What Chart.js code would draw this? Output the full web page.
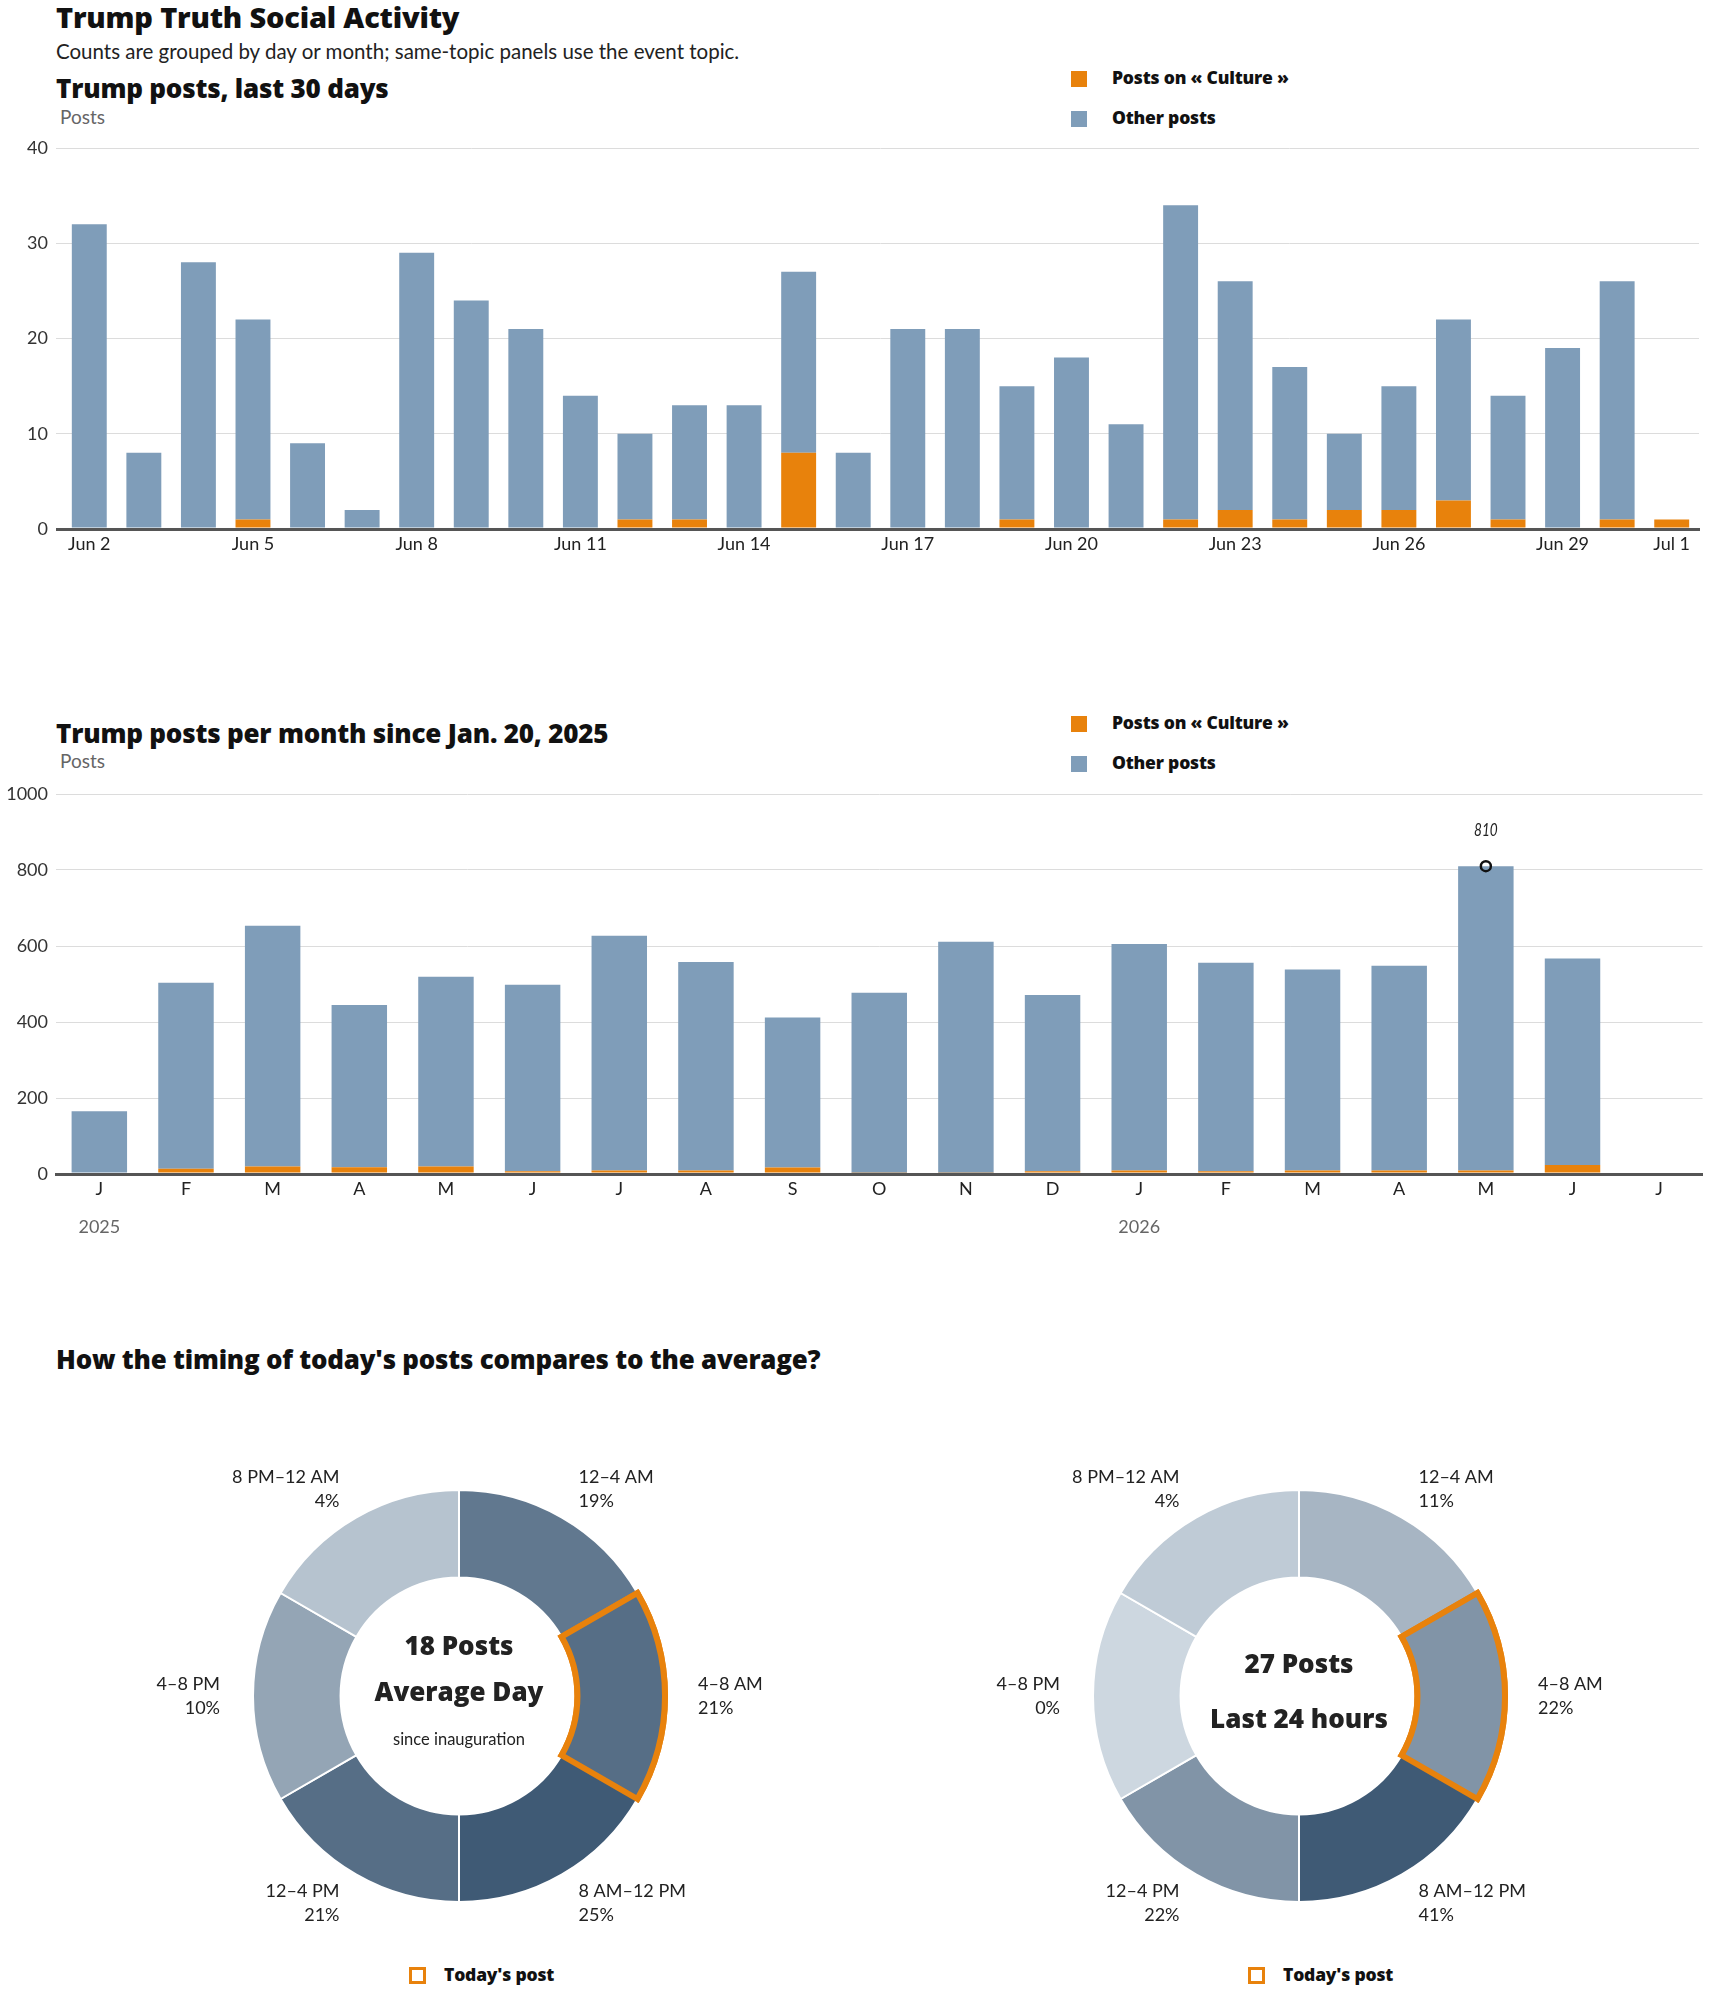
<!DOCTYPE html>
<html>
<head>
<meta charset="utf-8">
<script src="https://cdn.jsdelivr.net/npm/chart.js@4.4.1/dist/chart.umd.min.js"></script>
<style>
  body { margin: 0; background: #fff; }
  #page { position: relative; width: 1710px; height: 1993px; overflow: hidden; font-family: 'Lato', sans-serif; color: #111; }
  .t { position: absolute; white-space: nowrap; line-height: 1; transform: translateY(-50%); }
  .hd { font-family: 'Open Sans', sans-serif; font-weight: 800; letter-spacing: -0.2px; }
  .h1 { font-size: 29px; }
  .h2 { font-size: 26px; }
  .h3 { font-size: 25.9px; }
  .sub { font-size: 20.5px; color: #222; }
  .unit { font-size: 19px; color: #666; }
  .lg { font-size: 17.5px; }
  .sq { position: absolute; width: 16px; height: 16px; }
  .box { position: absolute; width: 11px; height: 11px; border: 3px solid #e8820c; }
  canvas { position: absolute; }
</style>
</head>
<body>
<div id="page">
  <div class="t hd h1" style="left:56px; top:16px;">Trump Truth Social Activity</div>
  <div class="t sub" style="left:56px; top:51px;">Counts are grouped by day or month; same-topic panels use the event topic.</div>

  <div class="t hd h2" style="left:56px; top:88px;">Trump posts, last 30 days</div>
  <div class="t unit" style="left:60px; top:116px;">Posts</div>
  <div class="sq" style="left:1071px; top:71px; background:#e8820c;"></div>
  <div class="t hd lg" style="left:1112px; top:78px;">Posts on « Culture »</div>
  <div class="sq" style="left:1071px; top:111px; background:#7f9db9;"></div>
  <div class="t hd lg" style="left:1112px; top:118px;">Other posts</div>
  <canvas id="daily" style="left:0; top:121px; width:1710px; height:440px;"></canvas>

  <div class="t hd h2" style="left:56px; top:733px;">Trump posts per month since Jan. 20, 2025</div>
  <div class="t unit" style="left:60px; top:760px;">Posts</div>
  <div class="sq" style="left:1071px; top:716px; background:#e8820c;"></div>
  <div class="t hd lg" style="left:1112px; top:723px;">Posts on « Culture »</div>
  <div class="sq" style="left:1071px; top:756px; background:#7f9db9;"></div>
  <div class="t hd lg" style="left:1112px; top:763px;">Other posts</div>
  <canvas id="monthly" style="left:0; top:763px; width:1710px; height:481px;"></canvas>

  <div class="t hd h3" style="left:56px; top:1360px;">How the timing of today's posts compares to the average?</div>
  <canvas id="donutAvg" style="left:79px; top:1436px; width:760px; height:520px;"></canvas>
  <canvas id="donutToday" style="left:919px; top:1436px; width:760px; height:520px;"></canvas>
  <div class="box" style="left:409px; top:1967px;"></div>
  <div class="t hd lg" style="left:444px; top:1975px;">Today's post</div>
  <div class="box" style="left:1248px; top:1967px;"></div>
  <div class="t hd lg" style="left:1283px; top:1975px;">Today's post</div>
</div>

<script>
// ---- data ----
const dayLabels = ['Jun 2', 'Jun 3', 'Jun 4', 'Jun 5', 'Jun 6', 'Jun 7', 'Jun 8', 'Jun 9', 'Jun 10', 'Jun 11',
    'Jun 12', 'Jun 13', 'Jun 14', 'Jun 15', 'Jun 16', 'Jun 17', 'Jun 18', 'Jun 19', 'Jun 20', 'Jun 21',
    'Jun 22', 'Jun 23', 'Jun 24', 'Jun 25', 'Jun 26', 'Jun 27', 'Jun 28', 'Jun 29', 'Jun 30', 'Jul 1'];
const dayCulture = [0, 0, 0, 1, 0, 0, 0, 0, 0, 0, 1, 1, 0, 8, 0, 0, 0, 1, 0, 0, 1, 2, 1, 2, 2, 3, 1, 0, 1, 1];
const dayOther = [32, 8, 28, 21, 9, 2, 29, 24, 21, 14, 9, 12, 13, 19, 8, 21, 21, 14, 18, 11, 33, 24, 16, 8, 13, 19, 13, 19, 25, 0];
const dayTicks = [0, 10, 20, 30, 40];

const monthLabels = ['J', 'F', 'M', 'A', 'M', 'J', 'J', 'A', 'S', 'O', 'N', 'D', 'J', 'F', 'M', 'A', 'M', 'J', 'J'];
const monthYears = [{ index: 0, label: '2025' }, { index: 12, label: '2026' }];
const monthCulture = [0, 14, 20, 18, 20, 7, 9, 9, 17, 3, 3, 7, 9, 7, 9, 9, 9, 24, 0];
const monthOther = [165, 489, 633, 427, 499, 491, 618, 549, 395, 474, 608, 464, 596, 549, 529, 539, 801, 543, 0];
const monthTicks = [0, 200, 400, 600, 800, 1000];

const slotLabels = ['12–4 AM', '4–8 AM', '8 AM–12 PM', '12–4 PM', '4–8 PM', '8 PM–12 AM'];
const slotHours = [4, 4, 4, 4, 4, 4];
const avgPct = [19, 21, 25, 21, 10, 4];
const todayPct = [11, 22, 41, 22, 0, 4];
const avgPosts = 18;
const todayPosts = 27;
const todaySlot = 1;

// ---- styles ----
const ORANGE = '#e8820c';
const BLUE = '#7f9db9';
const GRID = '#dcdcdc';
const AXIS = '#555';
const FONT = "'Lato', sans-serif";
const HEAVY = "'Open Sans', sans-serif";

Chart.defaults.font.family = FONT;
Chart.defaults.color = '#222';
Chart.defaults.animation = false;

function barOptions(opts) {
    return {
        responsive: false,
        maintainAspectRatio: false,
        events: [],
        layout: { padding: { top: opts.padTop, right: opts.padRight, left: 0, bottom: 0 } },
        plugins: { legend: { display: false }, tooltip: { enabled: false } },
        scales: {
            x: {
                stacked: true,
                grid: { display: false, drawTicks: false },
                border: { display: true, color: AXIS, width: 3, z: 1 },
                ticks: {
                    autoSkip: false, maxRotation: 0, padding: 4,
                    font: { size: 18 }, color: '#222',
                    callback: opts.xCallback
                },
                afterFit: s => { s.height = opts.xHeight; }
            },
            y: {
                stacked: true,
                min: 0, max: opts.max,
                afterBuildTicks: s => { s.ticks = opts.ticks.map(v => ({ value: v })); },
                grid: {
                    color: c => c.tick && c.tick.value === 0 ? AXIS : GRID,
                    lineWidth: c => c.tick && c.tick.value === 0 ? 3 : 1,
                    drawTicks: opts.tickLen > 0, tickLength: opts.tickLen
                },
                border: { display: false },
                ticks: { padding: 8, font: { size: 18 }, color: '#333', callback: v => String(v) },
                afterFit: s => { s.width = opts.yWidth; }
            }
        }
    };
}

// 1. Daily chart
new Chart(document.getElementById('daily'), {
    type: 'bar',
    data: {
        labels: dayLabels,
        datasets: [
            { label: 'Posts on « Culture »', data: dayCulture, backgroundColor: ORANGE, categoryPercentage: 1, barPercentage: 0.64 },
            { label: 'Other posts', data: dayOther, backgroundColor: BLUE, categoryPercentage: 1, barPercentage: 0.64 }
        ]
    },
    options: barOptions({
        padTop: 27, padRight: 11, xHeight: 32, yWidth: 62, tickLen: 6,
        max: 40, ticks: dayTicks,
        xCallback: function(v, i) {
            return (i % 3 === 0 || i === dayLabels.length - 1) ? dayLabels[i] : '';
        }
    })
});

// 2. Monthly chart
const monthTotals = monthCulture.map((c, i) => c + monthOther[i]);
const peakIdx = monthTotals.indexOf(Math.max(...monthTotals));

const peakLabelPlugin = {
    id: 'peakLabel',
    afterDatasetsDraw(chart) {
        const pt = chart.getDatasetMeta(2).data[peakIdx];
        const ctx = chart.ctx;
        ctx.save();
        ctx.translate(pt.x, pt.y - 36);
        ctx.scale(0.8, 1);
        ctx.font = 'italic 17px ' + FONT;
        ctx.fillStyle = '#222';
        ctx.textAlign = 'center';
        ctx.textBaseline = 'middle';
        ctx.fillText(String(monthTotals[peakIdx]), 0, 0);
        ctx.restore();
    },
    afterDraw(chart) {
        const x = chart.scales.x;
        const ctx = chart.ctx;
        ctx.save();
        ctx.font = '18px ' + FONT;
        ctx.fillStyle = '#666';
        ctx.textAlign = 'center';
        ctx.textBaseline = 'middle';
        monthYears.forEach(y => {
            ctx.fillText(y.label, x.getPixelForValue(y.index), chart.chartArea.bottom + 53);
        });
        ctx.restore();
    }
};

new Chart(document.getElementById('monthly'), {
    type: 'bar',
    data: {
        labels: monthLabels,
        datasets: [
            { label: 'Posts on « Culture »', data: monthCulture, backgroundColor: ORANGE, categoryPercentage: 1, barPercentage: 0.64, order: 1 },
            { label: 'Other posts', data: monthOther, backgroundColor: BLUE, categoryPercentage: 1, barPercentage: 0.64, order: 1 },
            {
                type: 'line', label: 'peak', showLine: false, order: 0,
                data: monthTotals.map((t, i) => i === peakIdx ? t : null),
                pointRadius: 5, pointBorderWidth: 2.5, pointBorderColor: '#111',
                pointBackgroundColor: 'rgba(0,0,0,0)'
            }
        ]
    },
    options: barOptions({
        padTop: 31, padRight: 5, xHeight: 70, yWidth: 56, tickLen: 0,
        max: 1000, ticks: monthTicks,
        xCallback: function(v, i) { return monthLabels[i]; }
    }),
    plugins: [peakLabelPlugin]
});

// 3. Donuts
function shade(p) {
    // light #cdd7e0 -> dark #3f5a75
    const a = [205, 215, 224], b = [63, 90, 117];
    return 'rgb(' + a.map((v, k) => Math.round(v + (b[k] - v) * p)).join(',') + ')';
}

function makeDonut(id, pct, centerLines) {
    const max = Math.max(...pct);
    const labelPlugin = {
        id: 'donutLabels',
        afterDatasetsDraw(chart) {
            // redraw today's slot on top so its border is not covered by the next slice
            chart.getDatasetMeta(0).data[todaySlot].draw(chart.ctx);
        },
        afterDraw(chart) {
            const ctx = chart.ctx;
            const arcs = chart.getDatasetMeta(0).data;
            ctx.save();
            ctx.font = '18px ' + FONT;
            ctx.fillStyle = '#222';
            ctx.textBaseline = 'middle';
            arcs.forEach((arc, i) => {
                const a = (arc.startAngle + arc.endAngle) / 2;
                const r = arc.outerRadius + 33;
                const x = arc.x + Math.cos(a) * r;
                const y = arc.y + Math.sin(a) * r;
                const c = Math.cos(a);
                ctx.textAlign = c > 0.01 ? 'left' : (c < -0.01 ? 'right' : 'center');
                ctx.fillText(slotLabels[i], x, y - 12);
                ctx.fillText(pct[i] + '%', x, y + 12);
            });
            const cx = arcs[0].x, cy = arcs[0].y;
            ctx.textAlign = 'center';
            centerLines.forEach(l => {
                ctx.font = l.font;
                ctx.fillText(l.text, cx, cy + l.dy);
            });
            ctx.restore();
        }
    };
    new Chart(document.getElementById(id), {
        type: 'doughnut',
        data: {
            labels: slotLabels,
            datasets: [{
                data: slotHours,
                backgroundColor: pct.map(p => shade(p / max)),
                borderColor: c => c.dataIndex === todaySlot ? ORANGE : '#fff',
                borderWidth: c => c.dataIndex === todaySlot ? 6 : 2,
                borderJoinStyle: 'miter'
            }]
        },
        options: {
            responsive: false,
            maintainAspectRatio: false,
            events: [],
            radius: 206,
            cutout: '57.5%',
            plugins: { legend: { display: false }, tooltip: { enabled: false } }
        },
        plugins: [labelPlugin]
    });
}

makeDonut('donutAvg', avgPct, [
    { text: avgPosts + ' Posts', font: '800 26px ' + HEAVY, dy: -48 },
    { text: 'Average Day', font: '800 26px ' + HEAVY, dy: -2 },
    { text: 'since inauguration', font: '16.5px ' + FONT, dy: 44 }
]);
makeDonut('donutToday', todayPct, [
    { text: todayPosts + ' Posts', font: '800 26px ' + HEAVY, dy: -30 },
    { text: 'Last 24 hours', font: '800 26px ' + HEAVY, dy: 25 }
]);
</script>
</body>
</html>
